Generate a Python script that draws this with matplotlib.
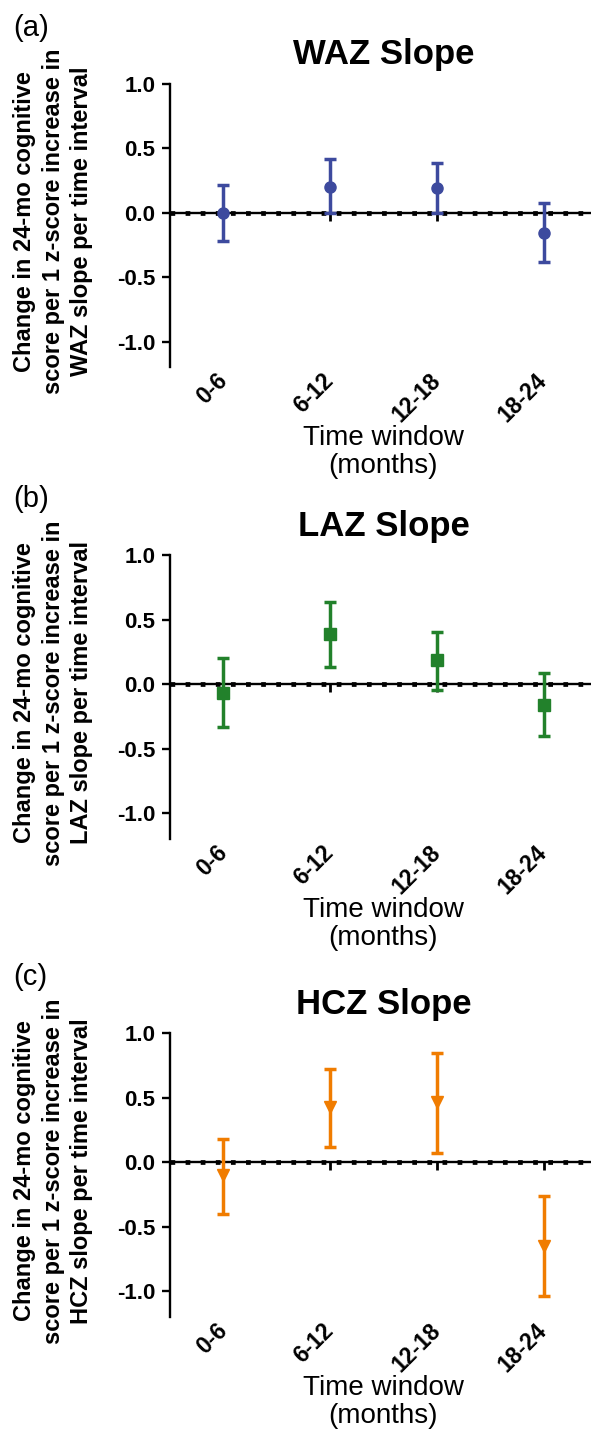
import numpy as np
import matplotlib.pyplot as plt

plt.rcParams['font.family'] = ['Liberation Sans', 'DejaVu Sans']
plt.rcParams['axes.unicode_minus'] = False

windows = ['0-6', '6-12', '12-18', '18-24']

# estimate and 95% CI per time window
waz_est = [0.00, 0.20, 0.19, -0.155]
waz_lo = [-0.22, 0.00, 0.00, -0.385]
waz_hi = [0.215, 0.415, 0.385, 0.078]

laz_est = [-0.065, 0.388, 0.186, -0.16]
laz_lo = [-0.333, 0.137, -0.042, -0.40]
laz_hi = [0.206, 0.636, 0.408, 0.085]

hcz_est = [-0.10, 0.43, 0.464, -0.647]
hcz_lo = [-0.40, 0.12, 0.07, -1.04]
hcz_hi = [0.183, 0.726, 0.85, -0.258]

yticks = [-1.0, -0.5, 0.0, 0.5, 1.0]

panels = [
    ('(a)', 'WAZ', waz_est, waz_lo, waz_hi, '#3d4a9e', 'o', 8),
    ('(b)', 'LAZ', laz_est, laz_lo, laz_hi, '#22812b', 's', 8),
    ('(c)', 'HCZ', hcz_est, hcz_lo, hcz_hi, '#f07c00', 'v', 8.5),
]

W, H = 591, 1432
fig = plt.figure(figsize=(W / 100, H / 100), dpi=100)

# axes top edges in pixels (y = 1.0)
tops = [83.7, 555.3, 1033.3]
ax_h = 283.8
x_left, ax_w = 170, 427

x = np.arange(len(windows))

for (lab, name, est, lo, hi, col, mk, ms), top in zip(panels, tops):
    ax = fig.add_axes([x_left / W, 1 - (top + ax_h) / H, ax_w / W, ax_h / H])
    est = np.array(est)
    yerr = [est - np.array(lo), np.array(hi) - est]

    # zero reference line
    ax.axhline(0, color='black', lw=3.4, ls=(0, (1, 2.2)), zorder=1)
    ax.axhline(0, color='black', lw=1.7, zorder=1.5)
    ax.plot(x, np.zeros(len(x)), ls='none', marker=3, ms=6, mew=2,
            color='black', zorder=1.6)

    ax.errorbar(x, est, yerr=yerr, fmt=mk, color=col, ms=ms, elinewidth=2.5,
                capsize=4, capthick=2.5, zorder=3)

    ax.set_xlim(-0.5, 3.5)
    ax.set_ylim(-1.2, 1.0)
    ax.set_yticks(yticks, [f'{v:.1f}' for v in yticks])
    ax.set_xticks(x, windows)

    for s in ['top', 'right', 'bottom']:
        ax.spines[s].set_visible(False)
    ax.spines['left'].set_linewidth(1.7)

    ax.tick_params(axis='y', length=5.5, width=1.7, pad=5, labelsize=16)
    ax.tick_params(axis='x', length=0, pad=7, labelsize=16.5)
    for t in ax.get_yticklabels():
        t.set_fontweight('bold')
    for t in ax.get_xticklabels():
        t.set_fontweight('bold')
        t.set_rotation(45)
        t.set_ha('right')
        t.set_va('center')
        t.set_rotation_mode('anchor')

    ax.set_title(f'{name} Slope', fontsize=25, fontweight='bold', pad=14)

    ax.set_ylabel('Change in 24-mo cognitive\nscore per 1 z-score increase in\n'
                  f'{name} slope per time interval',
                  fontsize=17, fontweight='bold', linespacing=1.3)
    ax.yaxis.set_label_coords((93 - x_left) / ax_w, 0.515)

    ax.set_xlabel('Time window\n(months)', fontsize=20, linespacing=1.1, va='top')
    ax.xaxis.set_label_coords(0.5, -(425 - 367.5) / ax_h)

    ax.text((13 - x_left) / ax_w, 1 + 70 / ax_h, lab, transform=ax.transAxes,
            fontsize=21, ha='left', va='top')

fig.savefig('out.png', dpi=100)
